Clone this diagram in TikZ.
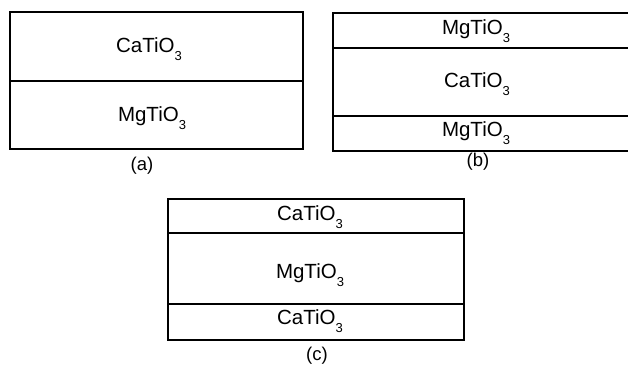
\documentclass[tikz,border=0pt]{standalone}
\usepackage{fontspec}
\setmainfont{Liberation Sans}
% chemical formula with a lowered subscript digit
\newcommand{\chemsub}[1]{\raisebox{-8pt}{\fontsize{13pt}{13pt}\selectfont #1}}
\tikzset{
  border/.style={line width=1.9pt},
  layerline/.style={line width=2.7pt},
  formula/.style={anchor=base, inner sep=0pt, font=\fontsize{20.5pt}{22pt}\selectfont},
  caption/.style={anchor=base, inner sep=0pt, font=\fontsize{18.5pt}{21pt}\selectfont},
}
\begin{document}
\begin{tikzpicture}[x=1pt,y=-1pt]
\useasboundingbox (0,0) rectangle (628,366);

% (a) two-layer stack
\draw[border] (10,12) rectangle (303,149);
\draw[layerline] (10,81) -- (303,81);
\node[formula] (a1) at (149,53) {CaTiO\chemsub{3}};
\node[formula] (a2) at (152,122) {MgTiO\chemsub{3}};
\node[caption] (la) at (142,170) {(a)};

% (b) three-layer stack, running off the right edge
\draw[border] (628,13) -- (333,13) -- (333,151) -- (628,151);
\draw[layerline] (333,48) -- (628,48);
\draw[layerline] (333,116) -- (628,116);
\node[formula] (b1) at (476,35) {MgTiO\chemsub{3}};
\node[formula] (b2) at (477,88) {CaTiO\chemsub{3}};
\node[formula] (b3) at (476,137) {MgTiO\chemsub{3}};
\node[caption] (lb) at (478,166) {(b)};

% (c) three-layer stack
\draw[border] (168,199) rectangle (464,340);
\draw[border] (168,233) -- (464,233);
\draw[border] (168,304) -- (464,304);
\node[formula] (c1) at (310,220) {CaTiO\chemsub{3}};
\node[formula] (c2) at (310,278) {MgTiO\chemsub{3}};
\node[formula] (c3) at (310,324) {CaTiO\chemsub{3}};
\node[caption] (lc) at (317,360) {(c)};
\end{tikzpicture}
\end{document}
